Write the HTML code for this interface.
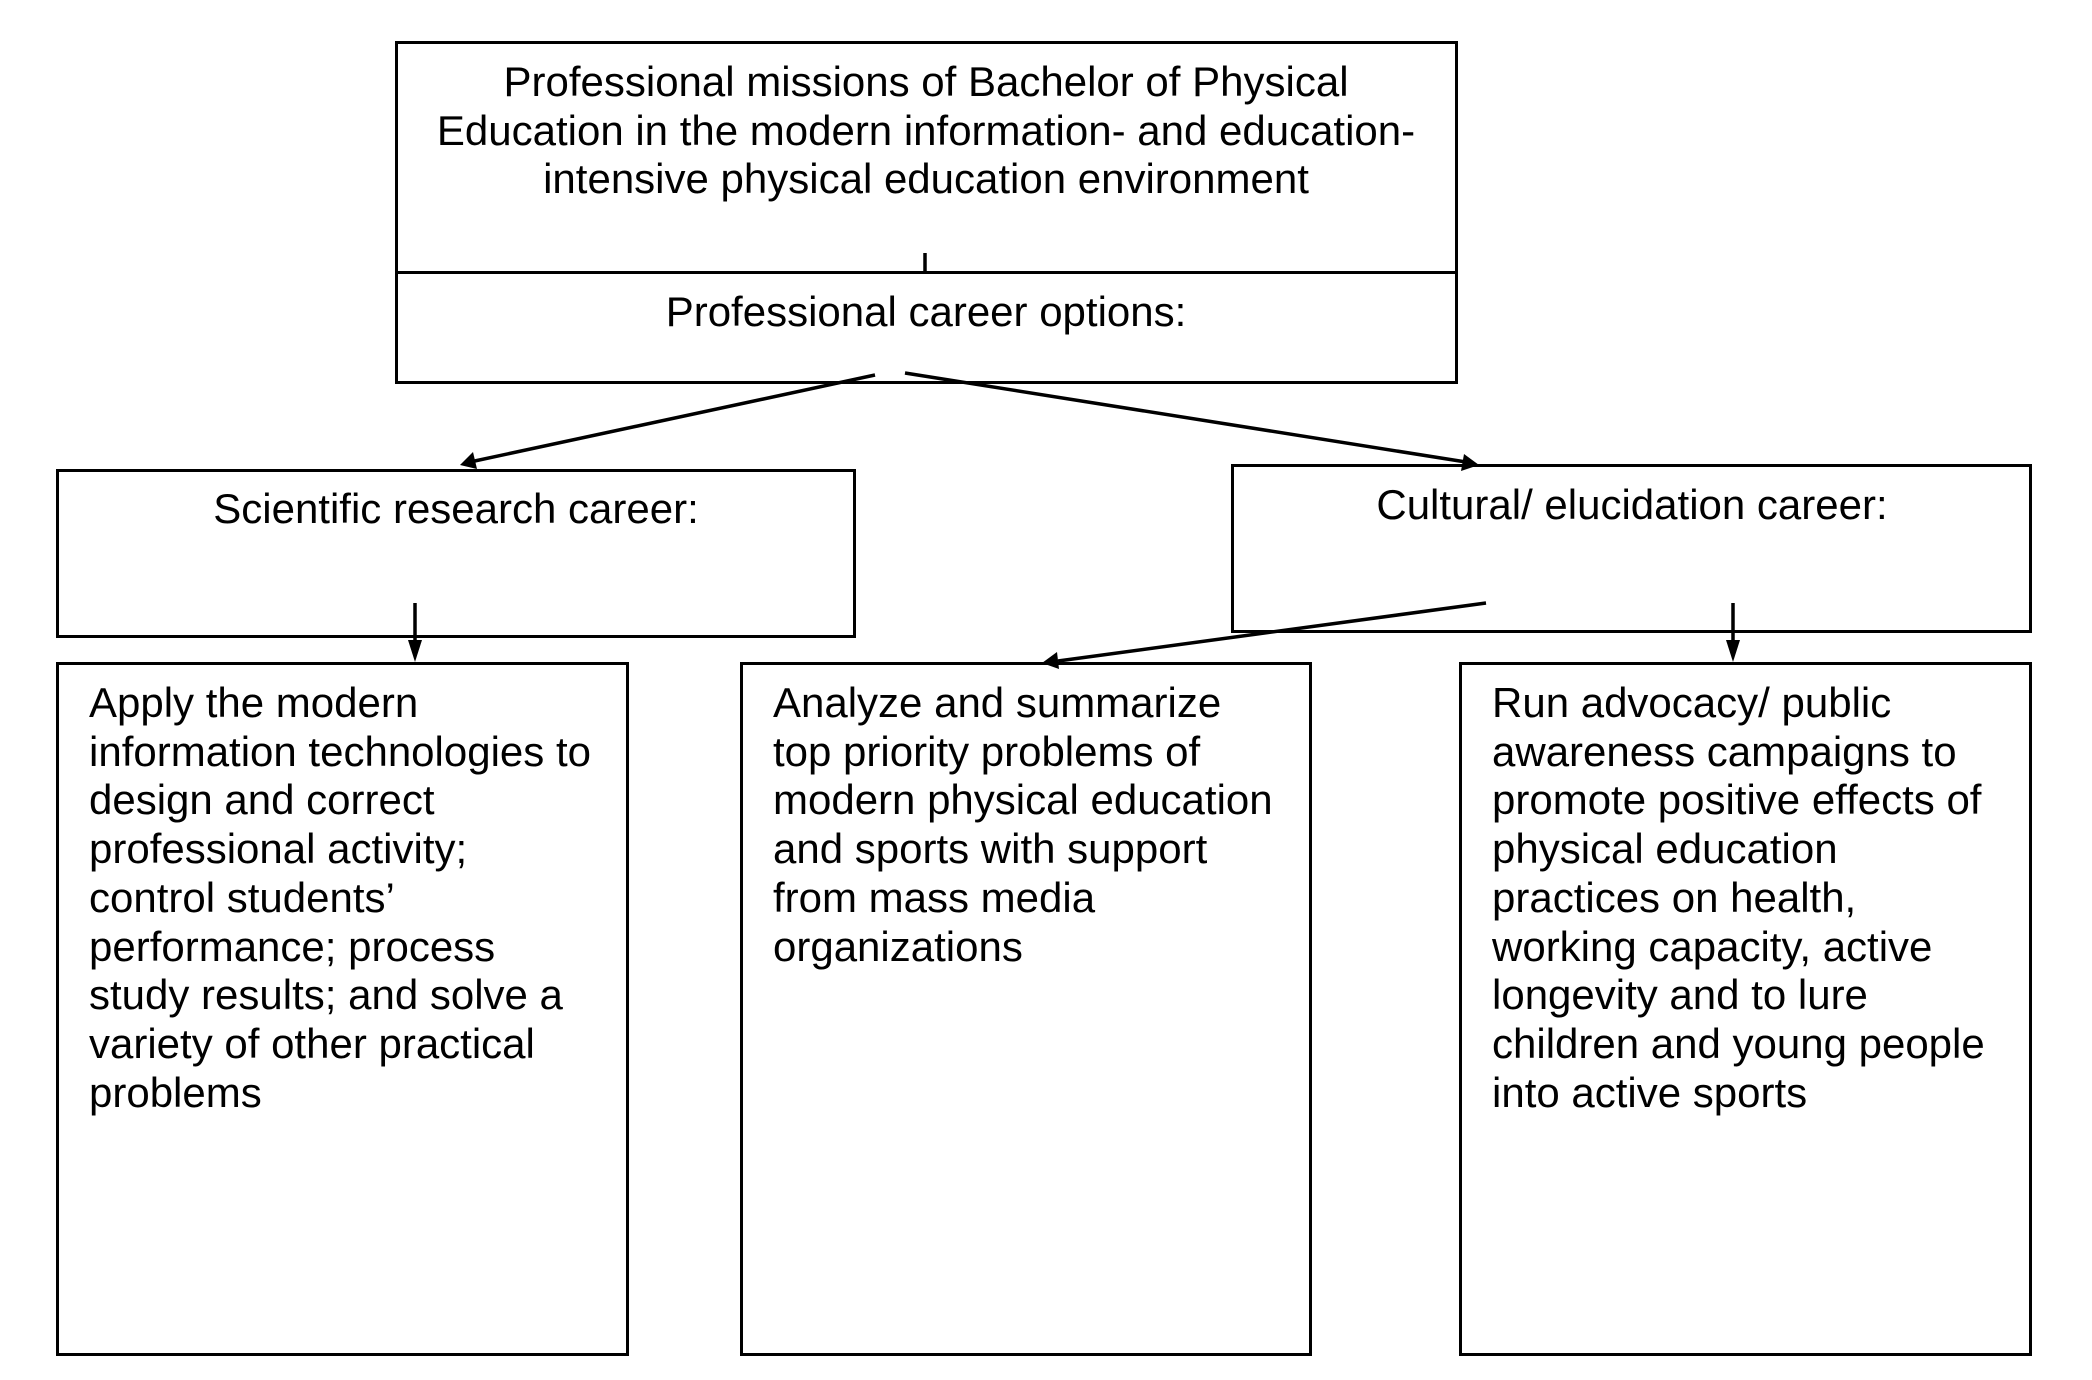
<!DOCTYPE html>
<html><head><meta charset="utf-8"><style>
html,body{margin:0;padding:0;background:#fff;}
body{width:2092px;height:1380px;position:relative;overflow:hidden;font-family:"Liberation Sans",Arial,sans-serif;color:#000;}
.box{position:absolute;border:3px solid #000;box-sizing:border-box;}
.t{position:absolute;font-size:42px;line-height:48.7px;white-space:nowrap;}
.c{text-align:center;transform:translateX(-50%);}
</style></head><body>
<div class="box" style="left:395px;top:41px;width:1063px;height:233px;"></div>
<div class="box" style="left:395px;top:271px;width:1063px;height:113px;"></div>
<div class="box" style="left:56px;top:469px;width:800px;height:169px;"></div>
<div class="box" style="left:1231px;top:464px;width:801px;height:169px;"></div>
<div class="box" style="left:56px;top:662px;width:573px;height:694px;"></div>
<div class="box" style="left:740px;top:662px;width:572px;height:694px;"></div>
<div class="box" style="left:1459px;top:662px;width:573px;height:694px;"></div>

<svg width="2092" height="1380" style="position:absolute;left:0;top:0">
<g stroke="#000" stroke-width="3.5" fill="none">
<line x1="925" y1="253" x2="925" y2="271"/>
<line x1="875" y1="375" x2="470" y2="462"/>
<line x1="905" y1="373" x2="1466" y2="462"/>
<line x1="415" y1="603" x2="415" y2="645"/>
<line x1="1486" y1="603" x2="1058" y2="661"/>
<line x1="1733" y1="603" x2="1733" y2="645"/>
</g>
<g fill="#000">
<polygon points="460,465 473,452 477,469"/>
<polygon points="1479,465 1464,454 1461,471"/>
<polygon points="408,640 422,640 415,662"/>
<polygon points="1042,663 1057,652 1059,669"/>
<polygon points="1726,640 1740,640 1733,662"/>
</g>
</svg>

<div class="t c" style="left:926px;top:58px;">Professional missions of Bachelor of Physical<br>Education in the modern information- and education-<br>intensive physical education environment</div>
<div class="t c" style="left:926px;top:288px;">Professional career options:</div>
<div class="t c" style="left:456px;top:485px;">Scientific research career:</div>
<div class="t c" style="left:1632px;top:481px;">Cultural/ elucidation career:</div>
<div class="t" style="left:89px;top:679px;">Apply the modern<br>information technologies to<br>design and correct<br>professional activity;<br>control students’<br>performance; process<br>study results; and solve a<br>variety of other practical<br>problems</div>
<div class="t" style="left:773px;top:679px;">Analyze and summarize<br>top priority problems of<br>modern physical education<br>and sports with support<br>from mass media<br>organizations</div>
<div class="t" style="left:1492px;top:679px;">Run advocacy/ public<br>awareness campaigns to<br>promote positive effects of<br>physical education<br>practices on health,<br>working capacity, active<br>longevity and to lure<br>children and young people<br>into active sports</div>
</body></html>
